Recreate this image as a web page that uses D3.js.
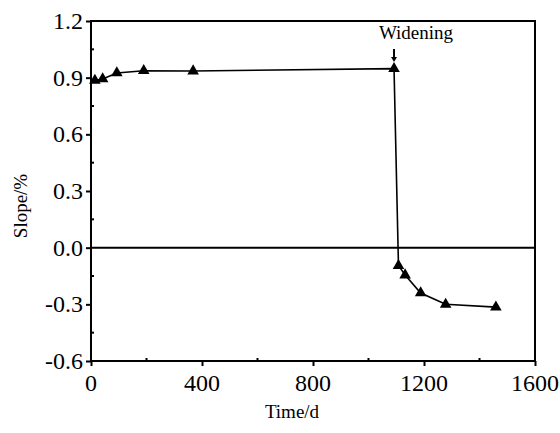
<!DOCTYPE html>
<html lang="en">
<head>
<meta charset="utf-8">
<title>Slope vs time</title>
<script src="https://d3js.org/d3.v7.min.js"></script>
<style>
  body { margin: 0; background: #fff; }
  svg { display: block; }
  svg text { font-family: "Liberation Serif", "DejaVu Serif", serif; fill: #000; }
</style>
</head>
<body>
<svg id="chart" width="560" height="433"></svg>
<script>
const days  = [14, 42, 93, 190, 368, 1092, 1108, 1132, 1188, 1278, 1459];
const slope = [0.885, 0.893, 0.925, 0.937, 0.935, 0.948, -0.095, -0.145, -0.24, -0.30, -0.315];
const xTicks = [0, 400, 800, 1200, 1600];
const yTicks = [-0.6, -0.3, 0.0, 0.3, 0.6, 0.9, 1.2];
const widenAt = 1092;

const m = {left: 91, right: 25, top: 21, bottom: 72};
const W = 560, H = 433;
const svg = d3.select("#chart");

const x = d3.scaleLinear().domain([0, 1600]).range([m.left, W - m.right]);
const y = d3.scaleLinear().domain([-0.6, 1.2]).range([H - m.bottom, m.top]);

// frame
svg.append("rect")
  .attr("x", x(0)).attr("y", y(1.2))
  .attr("width", x(1600) - x(0)).attr("height", y(-0.6) - y(1.2))
  .attr("fill", "none").attr("stroke", "#000").attr("stroke-width", 2);

// zero line
svg.append("line")
  .attr("x1", x(0)).attr("x2", x(1600))
  .attr("y1", y(0)).attr("y2", y(0))
  .attr("stroke", "#000").attr("stroke-width", 2);

// major ticks (outward), labels drawn separately
const xAxis = svg.append("g").attr("transform", `translate(0,${y(-0.6)})`)
  .call(d3.axisBottom(x).tickValues(xTicks).tickSize(5).tickFormat(""));
const yAxis = svg.append("g").attr("transform", `translate(${x(0)},0)`)
  .call(d3.axisLeft(y).tickValues(yTicks).tickSize(5).tickFormat(""));
[xAxis, yAxis].forEach(a => {
  a.select(".domain").remove();
  a.selectAll(".tick line").attr("stroke", "#000").attr("stroke-width", 2);
  a.selectAll(".tick text").remove();
});

svg.append("g").selectAll("text").data(xTicks).join("text")
  .attr("x", d => x(d)).attr("y", y(-0.6) + 30)
  .attr("text-anchor", "middle").style("font-size", "24px")
  .text(d => d);
svg.append("g").selectAll("text").data(yTicks).join("text")
  .attr("x", x(0) - 8).attr("y", d => y(d) + 8)
  .attr("text-anchor", "end").style("font-size", "24px")
  .text(d => d < 0 ? "-" + Math.abs(d).toFixed(1) : d.toFixed(1));

// minor ticks (inward)
const xMinor = d3.range(200, 1600, 400);
const yMinor = d3.range(-0.45, 1.2, 0.3);
svg.append("g").selectAll("line").data(xMinor).join("line")
  .attr("x1", d => x(d)).attr("x2", d => x(d))
  .attr("y1", y(-0.6)).attr("y2", y(-0.6) - 3)
  .attr("stroke", "#000").attr("stroke-width", 2);
svg.append("g").selectAll("line").data(yMinor).join("line")
  .attr("x1", x(0)).attr("x2", x(0) + 3)
  .attr("y1", d => y(d)).attr("y2", d => y(d))
  .attr("stroke", "#000").attr("stroke-width", 2);

// series
const pts = days.map((d, i) => [d, slope[i]]);
svg.append("path")
  .datum(pts)
  .attr("fill", "none").attr("stroke", "#000").attr("stroke-width", 1.6)
  .attr("d", d3.line().x(d => x(d[0])).y(d => y(d[1])));

svg.append("g").selectAll("path").data(pts).join("path")
  .attr("transform", d => `translate(${x(d[0])},${y(d[1])})`)
  .attr("d", d3.symbol(d3.symbolTriangle, 58))
  .attr("fill", "#000");

// annotation
const ax = x(widenAt);
svg.append("line")
  .attr("x1", ax).attr("x2", ax)
  .attr("y1", 49).attr("y2", 58)
  .attr("stroke", "#000").attr("stroke-width", 2);
svg.append("path")
  .attr("d", `M${ax - 3},57 L${ax + 3},57 L${ax},62 Z`)
  .attr("fill", "#000");
svg.append("text")
  .attr("x", 416).attr("y", 39)
  .attr("text-anchor", "middle").style("font-size", "19px")
  .text("Widening");

// axis titles
svg.append("text")
  .attr("x", 292).attr("y", 418)
  .attr("text-anchor", "middle").style("font-size", "19px")
  .text("Time/d");
svg.append("text")
  .attr("transform", "translate(27,206) rotate(-90)")
  .attr("text-anchor", "middle").style("font-size", "19px")
  .text("Slope/%");
</script>
</body>
</html>
